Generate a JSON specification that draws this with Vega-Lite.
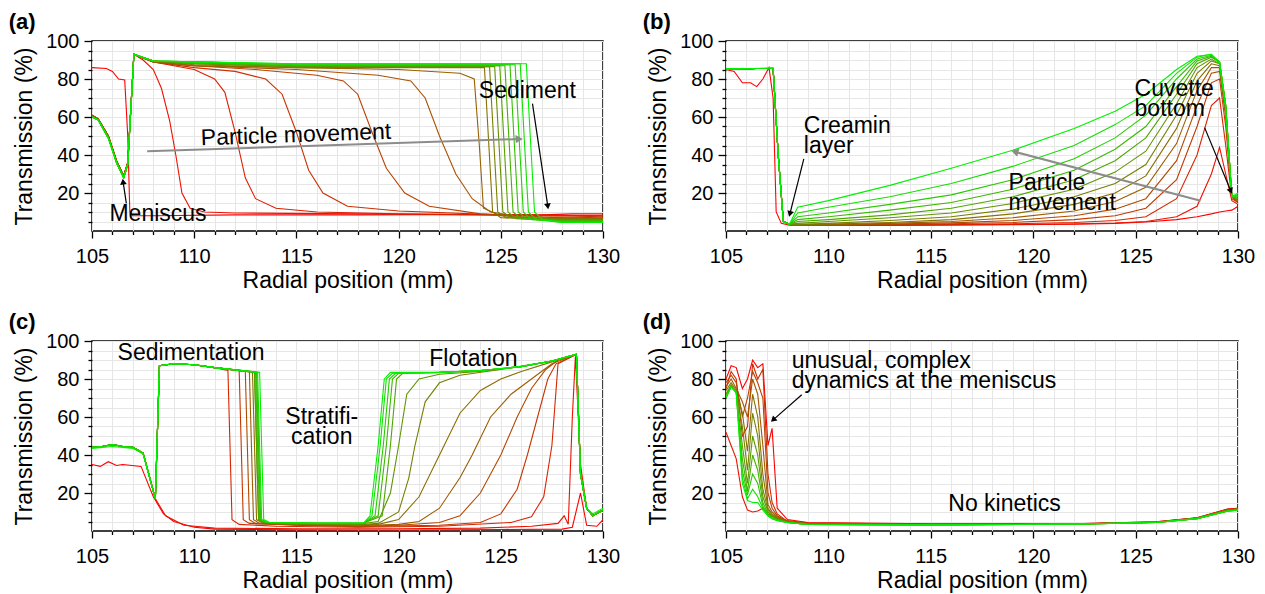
{
"$schema":"https://vega.github.io/schema/vega-lite/v6.json",
"padding":{"left":7,"top":10,"right":5,"bottom":0},
"columns":2,
"spacing":{"row":17,"column":20},
"resolve":{"scale":{"color":"independent"}},
"config":{
 "font":"Liberation Sans",
 "view":{"stroke":"#000","strokeWidth":1.5},
 "axis":{"domain":false,"labelFontSize":20,"titleFontSize":23,"labelColor":"#000","titleColor":"#000","titleFontWeight":"normal","tickColor":"#000","tickWidth":1.3,"gridColor":"#e6e6e6","gridWidth":1,"labelOverlap":false,"labelFlush":false,"labelBound":false,"labelFont":"Liberation Sans","titleFont":"Liberation Sans"},
 "title":{"fontSize":22,"fontWeight":"bold","anchor":"start","frame":"bounds","color":"#000","font":"Liberation Sans"},
 "text":{"font":"Liberation Sans","fontSize":23,"color":"#000"}
},
"datasets":{
"a":[
{"c":0,"x":105,"y":86},{"c":0,"x":105.7,"y":85.5},{"c":0,"x":106,"y":84},{"c":0,"x":106.3,"y":80},{"c":0,"x":106.6,"y":79.5},{"c":0,"x":106.75,"y":50},{"c":0,"x":106.85,"y":10},{"c":0,"x":107,"y":8},{"c":0,"x":108,"y":8},{"c":0,"x":112,"y":8.5},{"c":0,"x":118,"y":8.5},{"c":0,"x":124,"y":8.7},{"c":0,"x":127,"y":8.5},{"c":0,"x":128.5,"y":9},{"c":0,"x":130,"y":9},
{"c":1,"x":105,"y":61},{"c":1,"x":105.3,"y":59},{"c":1,"x":105.8,"y":50},{"c":1,"x":106.2,"y":37},{"c":1,"x":106.55,"y":29},{"c":1,"x":106.75,"y":36},{"c":1,"x":107.05,"y":93},
{"c":1,"x":107.5,"y":90},{"c":1,"x":108,"y":85},{"c":1,"x":108.4,"y":75},{"c":1,"x":108.8,"y":58},{"c":1,"x":109.1,"y":40},{"c":1,"x":109.4,"y":20},{"c":1,"x":109.8,"y":12},{"c":1,"x":110.5,"y":10},{"c":1,"x":112,"y":9.5},{"c":1,"x":118,"y":9},{"c":1,"x":124,"y":8.5},{"c":1,"x":130,"y":8},
{"c":2,"x":105,"y":61},{"c":2,"x":105.3,"y":59},{"c":2,"x":105.8,"y":50},{"c":2,"x":106.2,"y":37},{"c":2,"x":106.55,"y":29},{"c":2,"x":106.75,"y":36},{"c":2,"x":107.05,"y":93},
{"c":2,"x":107.5,"y":91},{"c":2,"x":108,"y":89},{"c":2,"x":109,"y":87},{"c":2,"x":110,"y":85},{"c":2,"x":111,"y":80},{"c":2,"x":111.5,"y":73},{"c":2,"x":112,"y":52},{"c":2,"x":112.5,"y":28},{"c":2,"x":113,"y":17},{"c":2,"x":114,"y":12},{"c":2,"x":116,"y":10},{"c":2,"x":120,"y":9},{"c":2,"x":125,"y":8.5},{"c":2,"x":130,"y":8},
{"c":3,"x":105,"y":61},{"c":3,"x":105.3,"y":59},{"c":3,"x":105.8,"y":50},{"c":3,"x":106.2,"y":37},{"c":3,"x":106.55,"y":29},{"c":3,"x":106.75,"y":36},{"c":3,"x":107.05,"y":93},
{"c":3,"x":107.5,"y":91},{"c":3,"x":108,"y":89},{"c":3,"x":110,"y":86},{"c":3,"x":112,"y":84},{"c":3,"x":113.5,"y":80},{"c":3,"x":114.3,"y":72},{"c":3,"x":115,"y":52},{"c":3,"x":115.6,"y":32},{"c":3,"x":116.3,"y":20},{"c":3,"x":117.5,"y":13},{"c":3,"x":120,"y":10.5},{"c":3,"x":125,"y":8.5},{"c":3,"x":130,"y":7.5},
{"c":4,"x":105,"y":61},{"c":4,"x":105.3,"y":59},{"c":4,"x":105.8,"y":50},{"c":4,"x":106.2,"y":37},{"c":4,"x":106.55,"y":29},{"c":4,"x":106.75,"y":36},{"c":4,"x":107.05,"y":93},
{"c":4,"x":107.5,"y":91},{"c":4,"x":108,"y":89},{"c":4,"x":110,"y":87},{"c":4,"x":113,"y":85},{"c":4,"x":116,"y":82},{"c":4,"x":117.3,"y":79},{"c":4,"x":118,"y":72},{"c":4,"x":118.7,"y":52},{"c":4,"x":119.4,"y":33},{"c":4,"x":120.3,"y":20},{"c":4,"x":121.5,"y":13},{"c":4,"x":124,"y":9},{"c":4,"x":127,"y":7.5},{"c":4,"x":130,"y":7},
{"c":5,"x":105,"y":61},{"c":5,"x":105.3,"y":59},{"c":5,"x":105.8,"y":50},{"c":5,"x":106.2,"y":37},{"c":5,"x":106.55,"y":29},{"c":5,"x":106.75,"y":36},{"c":5,"x":107.05,"y":93},
{"c":5,"x":107.5,"y":91},{"c":5,"x":108,"y":89},{"c":5,"x":110,"y":87},{"c":5,"x":115,"y":85},{"c":5,"x":119,"y":82},{"c":5,"x":120.6,"y":79},{"c":5,"x":121.3,"y":70},{"c":5,"x":122,"y":50},{"c":5,"x":122.8,"y":30},{"c":5,"x":123.6,"y":17},{"c":5,"x":124.5,"y":10},{"c":5,"x":126,"y":7.5},{"c":5,"x":130,"y":6.5},
{"c":6,"x":105,"y":61},{"c":6,"x":105.3,"y":59},{"c":6,"x":105.8,"y":50},{"c":6,"x":106.2,"y":37},{"c":6,"x":106.55,"y":29},{"c":6,"x":106.75,"y":36},{"c":6,"x":107.05,"y":93},
{"c":6,"x":107.5,"y":91},{"c":6,"x":108,"y":89},{"c":6,"x":110,"y":87},{"c":6,"x":115,"y":86},{"c":6,"x":120,"y":85},{"c":6,"x":123,"y":83},{"c":6,"x":123.7,"y":80},{"c":6,"x":123.95,"y":45},{"c":6,"x":124.15,"y":12},{"c":6,"x":125,"y":8},{"c":6,"x":127,"y":6.5},{"c":6,"x":130,"y":6},
{"c":7,"x":105,"y":60},{"c":7,"x":105.3,"y":58.5},{"c":7,"x":105.8,"y":49},{"c":7,"x":106.2,"y":36},{"c":7,"x":106.55,"y":28},{"c":7,"x":106.75,"y":35},{"c":7,"x":107.05,"y":93},
{"c":7,"x":108,"y":89.5},{"c":7,"x":110,"y":87.5},{"c":7,"x":115,"y":86},{"c":7,"x":120,"y":86},{"c":7,"x":124.2,"y":86},{"c":7,"x":124.4,"y":48},{"c":7,"x":124.6,"y":10},{"c":7,"x":125,"y":7},{"c":7,"x":128,"y":6.5},{"c":7,"x":130,"y":6.5},
{"c":8,"x":105,"y":60},{"c":8,"x":105.3,"y":58.5},{"c":8,"x":105.8,"y":49},{"c":8,"x":106.2,"y":36},{"c":8,"x":106.55,"y":28},{"c":8,"x":106.75,"y":35},{"c":8,"x":107.05,"y":93},
{"c":8,"x":108,"y":89.5},{"c":8,"x":110,"y":88},{"c":8,"x":115,"y":86.5},{"c":8,"x":120,"y":86.5},{"c":8,"x":124.45,"y":86.5},{"c":8,"x":124.65,"y":48},{"c":8,"x":124.85,"y":10},{"c":8,"x":125.25,"y":7},{"c":8,"x":128,"y":6},{"c":8,"x":130,"y":6},
{"c":9,"x":105,"y":60},{"c":9,"x":105.3,"y":58.5},{"c":9,"x":105.8,"y":49},{"c":9,"x":106.2,"y":36},{"c":9,"x":106.55,"y":28},{"c":9,"x":106.75,"y":35},{"c":9,"x":107.05,"y":93},
{"c":9,"x":108,"y":89.5},{"c":9,"x":110,"y":88},{"c":9,"x":115,"y":86.5},{"c":9,"x":120,"y":86.5},{"c":9,"x":124.7,"y":86.5},{"c":9,"x":124.9,"y":48},{"c":9,"x":125.1,"y":10},{"c":9,"x":125.5,"y":7},{"c":9,"x":128,"y":6},{"c":9,"x":130,"y":6},
{"c":10,"x":105,"y":60},{"c":10,"x":105.3,"y":58.5},{"c":10,"x":105.8,"y":49},{"c":10,"x":106.2,"y":36},{"c":10,"x":106.55,"y":28},{"c":10,"x":106.75,"y":35},{"c":10,"x":107.05,"y":93},
{"c":10,"x":108,"y":89.5},{"c":10,"x":110,"y":88.5},{"c":10,"x":115,"y":87},{"c":10,"x":120,"y":87},{"c":10,"x":124.95,"y":87},{"c":10,"x":125.15,"y":48},{"c":10,"x":125.35,"y":10},{"c":10,"x":125.75,"y":6.5},{"c":10,"x":128,"y":5.5},{"c":10,"x":130,"y":5.5},
{"c":11,"x":105,"y":60},{"c":11,"x":105.3,"y":58.5},{"c":11,"x":105.8,"y":49},{"c":11,"x":106.2,"y":36},{"c":11,"x":106.55,"y":28},{"c":11,"x":106.75,"y":35},{"c":11,"x":107.05,"y":93},
{"c":11,"x":108,"y":89.5},{"c":11,"x":110,"y":88.5},{"c":11,"x":115,"y":87},{"c":11,"x":120,"y":87},{"c":11,"x":125.2,"y":87},{"c":11,"x":125.4,"y":48},{"c":11,"x":125.6,"y":10},{"c":11,"x":126,"y":6.5},{"c":11,"x":128,"y":5.5},{"c":11,"x":130,"y":5.5},
{"c":12,"x":105,"y":60},{"c":12,"x":105.3,"y":58.5},{"c":12,"x":105.8,"y":49},{"c":12,"x":106.2,"y":36},{"c":12,"x":106.55,"y":28},{"c":12,"x":106.75,"y":35},{"c":12,"x":107.05,"y":93},
{"c":12,"x":108,"y":89.5},{"c":12,"x":110,"y":89},{"c":12,"x":115,"y":87.5},{"c":12,"x":120,"y":87.5},{"c":12,"x":125.45,"y":87.5},{"c":12,"x":125.65,"y":48},{"c":12,"x":125.85,"y":10},{"c":12,"x":126.25,"y":6.5},{"c":12,"x":128,"y":5},{"c":12,"x":130,"y":5},
{"c":13,"x":105,"y":60},{"c":13,"x":105.3,"y":58.5},{"c":13,"x":105.8,"y":49},{"c":13,"x":106.2,"y":36},{"c":13,"x":106.55,"y":28},{"c":13,"x":106.75,"y":35},{"c":13,"x":107.05,"y":93},
{"c":13,"x":108,"y":89.5},{"c":13,"x":110,"y":89},{"c":13,"x":115,"y":87.5},{"c":13,"x":120,"y":87.5},{"c":13,"x":125.7,"y":87.5},{"c":13,"x":125.9,"y":48},{"c":13,"x":126.1,"y":10},{"c":13,"x":126.5,"y":6},{"c":13,"x":128,"y":5},{"c":13,"x":130,"y":5},
{"c":14,"x":105,"y":60},{"c":14,"x":105.3,"y":58.5},{"c":14,"x":105.8,"y":49},{"c":14,"x":106.2,"y":36},{"c":14,"x":106.55,"y":28},{"c":14,"x":106.75,"y":35},{"c":14,"x":107.05,"y":93},
{"c":14,"x":108,"y":89.5},{"c":14,"x":110,"y":89},{"c":14,"x":115,"y":88},{"c":14,"x":120,"y":88},{"c":14,"x":125.95,"y":88},{"c":14,"x":126.15,"y":48},{"c":14,"x":126.35,"y":10},{"c":14,"x":126.75,"y":6},{"c":14,"x":128,"y":4.5},{"c":14,"x":130,"y":4.5},
{"c":15,"x":105,"y":60},{"c":15,"x":105.3,"y":58.5},{"c":15,"x":105.8,"y":49},{"c":15,"x":106.2,"y":36},{"c":15,"x":106.55,"y":28},{"c":15,"x":106.75,"y":35},{"c":15,"x":107.05,"y":93},
{"c":15,"x":108,"y":89.5},{"c":15,"x":110,"y":89},{"c":15,"x":115,"y":88},{"c":15,"x":120,"y":88},{"c":15,"x":126.25,"y":88},{"c":15,"x":126.45,"y":48},{"c":15,"x":126.65,"y":10},{"c":15,"x":127.05,"y":6},{"c":15,"x":128,"y":4.5},{"c":15,"x":130,"y":4.5}
],
"b":[
{"c":0,"x":105,"y":85},{"c":0,"x":105.4,"y":84},{"c":0,"x":105.8,"y":78},{"c":0,"x":106.2,"y":78},{"c":0,"x":106.5,"y":76},{"c":0,"x":106.8,"y":80},{"c":0,"x":107.1,"y":86},{"c":0,"x":107.3,"y":70},{"c":0,"x":107.45,"y":10},{"c":0,"x":107.7,"y":4},{"c":0,"x":108.1,"y":3},
{"c":0,"x":108.5,"y":3},{"c":0,"x":110,"y":3},{"c":0,"x":113,"y":3},{"c":0,"x":116,"y":3.2},{"c":0,"x":119,"y":3.3},{"c":0,"x":122,"y":3.6},{"c":0,"x":124,"y":4},{"c":0,"x":125.5,"y":4.7},{"c":0,"x":127,"y":6},{"c":0,"x":128,"y":7.5},{"c":0,"x":128.7,"y":9},{"c":0,"x":129.1,"y":10},{"c":0,"x":129.4,"y":10.5},{"c":0,"x":129.7,"y":11},{"c":0,"x":130,"y":13},
{"c":1,"x":105,"y":85},{"c":1,"x":106.5,"y":85.5},{"c":1,"x":107.3,"y":85.5},{"c":1,"x":107.55,"y":40},{"c":1,"x":107.8,"y":5},{"c":1,"x":108.1,"y":3.5},
{"c":1,"x":108.5,"y":3},{"c":1,"x":110,"y":3},{"c":1,"x":113,"y":3},{"c":1,"x":116,"y":3.2},{"c":1,"x":119,"y":3.4},{"c":1,"x":122,"y":3.7},{"c":1,"x":124,"y":4.2},{"c":1,"x":125.5,"y":5},{"c":1,"x":127,"y":7.5},{"c":1,"x":128,"y":13},{"c":1,"x":128.7,"y":30},{"c":1,"x":129.1,"y":44},{"c":1,"x":129.4,"y":30},{"c":1,"x":129.7,"y":16},{"c":1,"x":130,"y":14},
{"c":2,"x":105,"y":85},{"c":2,"x":106.5,"y":85.5},{"c":2,"x":107.3,"y":85.5},{"c":2,"x":107.55,"y":40},{"c":2,"x":107.8,"y":5},{"c":2,"x":108.1,"y":3.5},
{"c":2,"x":108.5,"y":3},{"c":2,"x":110,"y":3},{"c":2,"x":113,"y":3.1},{"c":2,"x":116,"y":3.4},{"c":2,"x":119,"y":3.8},{"c":2,"x":122,"y":4.5},{"c":2,"x":124,"y":5.5},{"c":2,"x":125.5,"y":7.5},{"c":2,"x":127,"y":17},{"c":2,"x":128,"y":40},{"c":2,"x":128.7,"y":66},{"c":2,"x":129.1,"y":70},{"c":2,"x":129.4,"y":45},{"c":2,"x":129.7,"y":17},{"c":2,"x":130,"y":15},
{"c":3,"x":105,"y":85},{"c":3,"x":106.5,"y":85.5},{"c":3,"x":107.3,"y":85.5},{"c":3,"x":107.55,"y":40},{"c":3,"x":107.8,"y":5},{"c":3,"x":108.1,"y":3.5},
{"c":3,"x":108.5,"y":3},{"c":3,"x":110,"y":3},{"c":3,"x":113,"y":3.3},{"c":3,"x":116,"y":3.8},{"c":3,"x":119,"y":4.5},{"c":3,"x":122,"y":6},{"c":3,"x":124,"y":8},{"c":3,"x":125.5,"y":12},{"c":3,"x":127,"y":27},{"c":3,"x":128,"y":55},{"c":3,"x":128.7,"y":78},{"c":3,"x":129.1,"y":80},{"c":3,"x":129.4,"y":55},{"c":3,"x":129.7,"y":18},{"c":3,"x":130,"y":15},
{"c":4,"x":105,"y":85},{"c":4,"x":106.5,"y":85.5},{"c":4,"x":107.3,"y":85.5},{"c":4,"x":107.55,"y":40},{"c":4,"x":107.8,"y":5},{"c":4,"x":108.1,"y":3.5},
{"c":4,"x":108.5,"y":3},{"c":4,"x":110,"y":3.1},{"c":4,"x":113,"y":3.6},{"c":4,"x":116,"y":4.3},{"c":4,"x":119,"y":5.5},{"c":4,"x":122,"y":8},{"c":4,"x":124,"y":11.5},{"c":4,"x":125.5,"y":17},{"c":4,"x":127,"y":37},{"c":4,"x":128,"y":66},{"c":4,"x":128.7,"y":83},{"c":4,"x":129.1,"y":84},{"c":4,"x":129.4,"y":60},{"c":4,"x":129.7,"y":18},{"c":4,"x":130,"y":16},
{"c":5,"x":105,"y":85},{"c":5,"x":106.5,"y":85.5},{"c":5,"x":107.3,"y":85.5},{"c":5,"x":107.55,"y":40},{"c":5,"x":107.8,"y":5},{"c":5,"x":108.1,"y":3.5},
{"c":5,"x":108.5,"y":3},{"c":5,"x":110,"y":3.3},{"c":5,"x":113,"y":4},{"c":5,"x":116,"y":5},{"c":5,"x":119,"y":7},{"c":5,"x":122,"y":10.5},{"c":5,"x":124,"y":15.5},{"c":5,"x":125.5,"y":23},{"c":5,"x":127,"y":46},{"c":5,"x":128,"y":74},{"c":5,"x":128.7,"y":86},{"c":5,"x":129.1,"y":86},{"c":5,"x":129.4,"y":62},{"c":5,"x":129.7,"y":18},{"c":5,"x":130,"y":16},
{"c":6,"x":105,"y":85},{"c":6,"x":106.5,"y":85.5},{"c":6,"x":107.3,"y":85.5},{"c":6,"x":107.55,"y":40},{"c":6,"x":107.8,"y":5},{"c":6,"x":108.1,"y":3.5},
{"c":6,"x":108.5,"y":3.2},{"c":6,"x":110,"y":3.6},{"c":6,"x":113,"y":4.5},{"c":6,"x":116,"y":6},{"c":6,"x":119,"y":9},{"c":6,"x":122,"y":14},{"c":6,"x":124,"y":20},{"c":6,"x":125.5,"y":29},{"c":6,"x":127,"y":54},{"c":6,"x":128,"y":79},{"c":6,"x":128.7,"y":88},{"c":6,"x":129.1,"y":87},{"c":6,"x":129.4,"y":64},{"c":6,"x":129.7,"y":18},{"c":6,"x":130,"y":16},
{"c":7,"x":105,"y":85},{"c":7,"x":106.5,"y":85.5},{"c":7,"x":107.3,"y":85.5},{"c":7,"x":107.55,"y":40},{"c":7,"x":107.8,"y":5},{"c":7,"x":108.1,"y":3.5},
{"c":7,"x":108.5,"y":3.5},{"c":7,"x":110,"y":4},{"c":7,"x":113,"y":5.5},{"c":7,"x":116,"y":7.5},{"c":7,"x":119,"y":11.5},{"c":7,"x":122,"y":18},{"c":7,"x":124,"y":25},{"c":7,"x":125.5,"y":35},{"c":7,"x":127,"y":61},{"c":7,"x":128,"y":83},{"c":7,"x":128.7,"y":89.5},{"c":7,"x":129.1,"y":88},{"c":7,"x":129.4,"y":65},{"c":7,"x":129.7,"y":18},{"c":7,"x":130,"y":16},
{"c":8,"x":105,"y":85},{"c":8,"x":106.5,"y":85.5},{"c":8,"x":107.3,"y":85.5},{"c":8,"x":107.55,"y":40},{"c":8,"x":107.8,"y":5},{"c":8,"x":108.1,"y":3.5},
{"c":8,"x":108.5,"y":4},{"c":8,"x":110,"y":5},{"c":8,"x":113,"y":7},{"c":8,"x":116,"y":9.5},{"c":8,"x":119,"y":14.5},{"c":8,"x":122,"y":22},{"c":8,"x":124,"y":31},{"c":8,"x":125.5,"y":42},{"c":8,"x":127,"y":67},{"c":8,"x":128,"y":86},{"c":8,"x":128.7,"y":90.5},{"c":8,"x":129.1,"y":88},{"c":8,"x":129.4,"y":66},{"c":8,"x":129.7,"y":18},{"c":8,"x":130,"y":17},
{"c":9,"x":105,"y":85},{"c":9,"x":106.5,"y":85.5},{"c":9,"x":107.3,"y":85.5},{"c":9,"x":107.55,"y":40},{"c":9,"x":107.8,"y":5},{"c":9,"x":108.1,"y":3.5},
{"c":9,"x":108.5,"y":5},{"c":9,"x":110,"y":6},{"c":9,"x":113,"y":8.5},{"c":9,"x":116,"y":12},{"c":9,"x":119,"y":18},{"c":9,"x":122,"y":27},{"c":9,"x":124,"y":37},{"c":9,"x":125.5,"y":49},{"c":9,"x":127,"y":72},{"c":9,"x":128,"y":88},{"c":9,"x":128.7,"y":91.5},{"c":9,"x":129.1,"y":89},{"c":9,"x":129.4,"y":66},{"c":9,"x":129.7,"y":18},{"c":9,"x":130,"y":17},
{"c":10,"x":105,"y":85},{"c":10,"x":106.5,"y":85.5},{"c":10,"x":107.3,"y":85.5},{"c":10,"x":107.55,"y":40},{"c":10,"x":107.8,"y":5},{"c":10,"x":108.1,"y":3.5},
{"c":10,"x":108.5,"y":6},{"c":10,"x":110,"y":7.5},{"c":10,"x":113,"y":11},{"c":10,"x":116,"y":15},{"c":10,"x":119,"y":22},{"c":10,"x":122,"y":32},{"c":10,"x":124,"y":43},{"c":10,"x":125.5,"y":55},{"c":10,"x":127,"y":76},{"c":10,"x":128,"y":89.5},{"c":10,"x":128.7,"y":92},{"c":10,"x":129.1,"y":89},{"c":10,"x":129.4,"y":66},{"c":10,"x":129.7,"y":18},{"c":10,"x":130,"y":18},
{"c":11,"x":105,"y":85},{"c":11,"x":106.5,"y":85.5},{"c":11,"x":107.3,"y":85.5},{"c":11,"x":107.55,"y":40},{"c":11,"x":107.8,"y":5},{"c":11,"x":108.1,"y":3.5},
{"c":11,"x":108.5,"y":7.5},{"c":11,"x":110,"y":9.5},{"c":11,"x":113,"y":14},{"c":11,"x":116,"y":19},{"c":11,"x":119,"y":27},{"c":11,"x":122,"y":38},{"c":11,"x":124,"y":49},{"c":11,"x":125.5,"y":61},{"c":11,"x":127,"y":80},{"c":11,"x":128,"y":90.5},{"c":11,"x":128.7,"y":92.5},{"c":11,"x":129.1,"y":89},{"c":11,"x":129.4,"y":66},{"c":11,"x":129.7,"y":18},{"c":11,"x":130,"y":18},
{"c":12,"x":105,"y":85},{"c":12,"x":106.5,"y":85.5},{"c":12,"x":107.3,"y":85.5},{"c":12,"x":107.55,"y":40},{"c":12,"x":107.8,"y":5},{"c":12,"x":108.1,"y":3.5},
{"c":12,"x":108.5,"y":9.5},{"c":12,"x":110,"y":12.5},{"c":12,"x":113,"y":18},{"c":12,"x":116,"y":25},{"c":12,"x":119,"y":34},{"c":12,"x":122,"y":45},{"c":12,"x":124,"y":56},{"c":12,"x":125.5,"y":66},{"c":12,"x":127,"y":83},{"c":12,"x":128,"y":91.5},{"c":12,"x":128.7,"y":93},{"c":12,"x":129.1,"y":89},{"c":12,"x":129.4,"y":66},{"c":12,"x":129.7,"y":18},{"c":12,"x":130,"y":19},
{"c":13,"x":105,"y":85.5},{"c":13,"x":106.5,"y":85.5},{"c":13,"x":107.3,"y":86},{"c":13,"x":107.55,"y":40},{"c":13,"x":107.8,"y":5},{"c":13,"x":108.1,"y":3.5},
{"c":13,"x":108.5,"y":12.5},{"c":13,"x":110,"y":16},{"c":13,"x":113,"y":24},{"c":13,"x":116,"y":33},{"c":13,"x":119,"y":42.5},{"c":13,"x":122,"y":54},{"c":13,"x":124,"y":63},{"c":13,"x":125.5,"y":72},{"c":13,"x":127,"y":85},{"c":13,"x":128,"y":92},{"c":13,"x":128.7,"y":93},{"c":13,"x":129.1,"y":88},{"c":13,"x":129.4,"y":64},{"c":13,"x":129.7,"y":18},{"c":13,"x":130,"y":20}
],
"c":[
{"c":0,"x":105,"y":35},{"c":0,"x":105.4,"y":34},{"c":0,"x":105.8,"y":36.5},{"c":0,"x":106.2,"y":34.5},{"c":0,"x":106.5,"y":35},{"c":0,"x":107.4,"y":34},{"c":0,"x":108,"y":18},{"c":0,"x":108.5,"y":9},{"c":0,"x":109,"y":5},{"c":0,"x":110,"y":2},{"c":0,"x":111,"y":1},{"c":0,"x":115,"y":0.6},{"c":0,"x":120,"y":0.5},{"c":0,"x":125,"y":0.8},{"c":0,"x":128,"y":1},{"c":0,"x":128.5,"y":2},{"c":0,"x":128.9,"y":20},{"c":0,"x":129.2,"y":3},{"c":0,"x":129.7,"y":2.5},{"c":0,"x":130,"y":6},
{"c":1,"x":105,"y":44},{"c":1,"x":105.5,"y":44.5},{"c":1,"x":106,"y":45.5},{"c":1,"x":106.5,"y":44.5},{"c":1,"x":107,"y":44},{"c":1,"x":107.5,"y":41},{"c":1,"x":108.1,"y":17},
{"c":1,"x":108.6,"y":8},{"c":1,"x":109.5,"y":3},{"c":1,"x":111,"y":1.5},{"c":1,"x":115,"y":1.2},{"c":1,"x":120,"y":1.2},{"c":1,"x":124,"y":1.5},{"c":1,"x":126.5,"y":2.5},{"c":1,"x":127.8,"y":4},{"c":1,"x":128.1,"y":8},{"c":1,"x":128.3,"y":3.5},{"c":1,"x":128.5,"y":60},{"c":1,"x":128.65,"y":92},{"c":1,"x":128.9,"y":35},{"c":1,"x":129.2,"y":12},{"c":1,"x":129.5,"y":8},{"c":1,"x":130,"y":11},
{"c":2,"x":105,"y":44},{"c":2,"x":105.5,"y":44.5},{"c":2,"x":106,"y":45.5},{"c":2,"x":106.5,"y":44.5},{"c":2,"x":107,"y":44},{"c":2,"x":107.5,"y":41},{"c":2,"x":108.1,"y":17},
{"c":2,"x":108.3,"y":87},{"c":2,"x":109,"y":88},{"c":2,"x":110,"y":87.5},{"c":2,"x":111,"y":86},{"c":2,"x":111.65,"y":84.5},{"c":2,"x":111.85,"y":6},{"c":2,"x":112.2,"y":3.5},{"c":2,"x":114,"y":2.5},{"c":2,"x":118,"y":2},{"c":2,"x":122,"y":2.5},{"c":2,"x":125.5,"y":4.5},{"c":2,"x":126.5,"y":7.5},{"c":2,"x":127.1,"y":18},{"c":2,"x":127.5,"y":45},{"c":2,"x":127.8,"y":88},{"c":2,"x":128.7,"y":93},{"c":2,"x":128.9,"y":30},{"c":2,"x":129.2,"y":12},{"c":2,"x":129.5,"y":8},{"c":2,"x":130,"y":11},
{"c":3,"x":105,"y":44},{"c":3,"x":105.5,"y":44.5},{"c":3,"x":106,"y":45.5},{"c":3,"x":106.5,"y":44.5},{"c":3,"x":107,"y":44},{"c":3,"x":107.5,"y":41},{"c":3,"x":108.1,"y":17},
{"c":3,"x":108.3,"y":87},{"c":3,"x":109,"y":88},{"c":3,"x":110,"y":87.5},{"c":3,"x":111,"y":86},{"c":3,"x":112.2,"y":84.5},{"c":3,"x":112.4,"y":6},{"c":3,"x":112.7,"y":4},{"c":3,"x":115,"y":3},{"c":3,"x":118,"y":2.3},{"c":3,"x":122,"y":3},{"c":3,"x":124,"y":4.5},{"c":3,"x":125,"y":9},{"c":3,"x":125.8,"y":22},{"c":3,"x":126.3,"y":40},{"c":3,"x":126.8,"y":60},{"c":3,"x":127.3,"y":80},{"c":3,"x":127.7,"y":88},{"c":3,"x":128.7,"y":93},{"c":3,"x":128.9,"y":30},{"c":3,"x":129.2,"y":12},{"c":3,"x":129.5,"y":8},{"c":3,"x":130,"y":11},
{"c":4,"x":105,"y":44},{"c":4,"x":105.5,"y":44.5},{"c":4,"x":106,"y":45.5},{"c":4,"x":106.5,"y":44.5},{"c":4,"x":107,"y":44},{"c":4,"x":107.5,"y":41},{"c":4,"x":108.1,"y":17},
{"c":4,"x":108.3,"y":87},{"c":4,"x":109,"y":88},{"c":4,"x":110,"y":87.5},{"c":4,"x":111,"y":86},{"c":4,"x":112.5,"y":84},{"c":4,"x":112.7,"y":6},{"c":4,"x":113,"y":4},{"c":4,"x":115,"y":3.2},{"c":4,"x":118,"y":2.5},{"c":4,"x":120,"y":3},{"c":4,"x":122,"y":4.5},{"c":4,"x":123,"y":8},{"c":4,"x":124,"y":20},{"c":4,"x":125,"y":40},{"c":4,"x":125.8,"y":60},{"c":4,"x":126.5,"y":75},{"c":4,"x":127.2,"y":85},{"c":4,"x":127.8,"y":90},{"c":4,"x":128.7,"y":93},{"c":4,"x":128.9,"y":30},{"c":4,"x":129.2,"y":12},{"c":4,"x":129.5,"y":8},{"c":4,"x":130,"y":11},
{"c":5,"x":105,"y":44},{"c":5,"x":105.5,"y":44.5},{"c":5,"x":106,"y":45.5},{"c":5,"x":106.5,"y":44.5},{"c":5,"x":107,"y":44},{"c":5,"x":107.5,"y":41},{"c":5,"x":108.1,"y":17},
{"c":5,"x":108.3,"y":87},{"c":5,"x":109,"y":88},{"c":5,"x":110,"y":87.5},{"c":5,"x":111,"y":86},{"c":5,"x":112.7,"y":84},{"c":5,"x":112.9,"y":6},{"c":5,"x":113.2,"y":4},{"c":5,"x":115,"y":3.3},{"c":5,"x":118,"y":2.8},{"c":5,"x":120,"y":3.5},{"c":5,"x":121,"y":5},{"c":5,"x":122,"y":12},{"c":5,"x":123,"y":28},{"c":5,"x":123.6,"y":40},{"c":5,"x":124.5,"y":60},{"c":5,"x":125.5,"y":72},{"c":5,"x":126.5,"y":80},{"c":5,"x":127.5,"y":88},{"c":5,"x":128.7,"y":93},{"c":5,"x":128.9,"y":30},{"c":5,"x":129.2,"y":12},{"c":5,"x":129.5,"y":8},{"c":5,"x":130,"y":11},
{"c":6,"x":105,"y":44},{"c":6,"x":105.5,"y":44.5},{"c":6,"x":106,"y":45.5},{"c":6,"x":106.5,"y":44.5},{"c":6,"x":107,"y":44},{"c":6,"x":107.5,"y":41},{"c":6,"x":108.1,"y":17},
{"c":6,"x":108.3,"y":87},{"c":6,"x":109,"y":88},{"c":6,"x":110,"y":87.5},{"c":6,"x":111,"y":86},{"c":6,"x":112.85,"y":84},{"c":6,"x":113.05,"y":6},{"c":6,"x":113.3,"y":4.5},{"c":6,"x":115,"y":3.5},{"c":6,"x":118,"y":3},{"c":6,"x":119,"y":3.5},{"c":6,"x":120,"y":6},{"c":6,"x":121,"y":18},{"c":6,"x":122,"y":40},{"c":6,"x":123,"y":62},{"c":6,"x":124,"y":74},{"c":6,"x":125,"y":80},{"c":6,"x":126,"y":84},{"c":6,"x":127.5,"y":89},{"c":6,"x":128.7,"y":93},{"c":6,"x":128.9,"y":30},{"c":6,"x":129.2,"y":12},{"c":6,"x":129.5,"y":8},{"c":6,"x":130,"y":11},
{"c":7,"x":105,"y":44},{"c":7,"x":105.5,"y":44.5},{"c":7,"x":106,"y":45.5},{"c":7,"x":106.5,"y":44.5},{"c":7,"x":107,"y":44},{"c":7,"x":107.5,"y":41},{"c":7,"x":108.1,"y":17},
{"c":7,"x":108.3,"y":87},{"c":7,"x":109,"y":88},{"c":7,"x":110,"y":87.5},{"c":7,"x":111,"y":86},{"c":7,"x":112.95,"y":83.5},{"c":7,"x":113.15,"y":6},{"c":7,"x":113.4,"y":4.5},{"c":7,"x":115,"y":3.6},{"c":7,"x":118,"y":3.2},{"c":7,"x":119,"y":4},{"c":7,"x":120,"y":10},{"c":7,"x":120.5,"y":28},{"c":7,"x":120.8,"y":45},{"c":7,"x":121.3,"y":68},{"c":7,"x":122,"y":78},{"c":7,"x":123,"y":82},{"c":7,"x":125,"y":85},{"c":7,"x":127.5,"y":89.5},{"c":7,"x":128.7,"y":93},{"c":7,"x":128.9,"y":30},{"c":7,"x":129.2,"y":12},{"c":7,"x":129.5,"y":8},{"c":7,"x":130,"y":11},
{"c":8,"x":105,"y":44},{"c":8,"x":105.5,"y":44.5},{"c":8,"x":106,"y":45.5},{"c":8,"x":106.5,"y":44.5},{"c":8,"x":107,"y":44},{"c":8,"x":107.5,"y":41},{"c":8,"x":108.1,"y":17},
{"c":8,"x":108.3,"y":87},{"c":8,"x":109,"y":88},{"c":8,"x":110,"y":87.5},{"c":8,"x":111,"y":86},{"c":8,"x":113.05,"y":83.5},{"c":8,"x":113.25,"y":6},{"c":8,"x":113.5,"y":4.5},{"c":8,"x":115,"y":3.8},{"c":8,"x":118,"y":3.5},{"c":8,"x":119,"y":5},{"c":8,"x":119.6,"y":20},{"c":8,"x":120,"y":45},{"c":8,"x":120.4,"y":72},{"c":8,"x":121,"y":80},{"c":8,"x":122,"y":82.5},{"c":8,"x":124,"y":84},{"c":8,"x":126,"y":86.5},{"c":8,"x":127.5,"y":89.5},{"c":8,"x":128.7,"y":93},{"c":8,"x":128.9,"y":30},{"c":8,"x":129.2,"y":12},{"c":8,"x":129.5,"y":8},{"c":8,"x":130,"y":11},
{"c":9,"x":105,"y":44},{"c":9,"x":105.5,"y":44.5},{"c":9,"x":106,"y":45.5},{"c":9,"x":106.5,"y":44.5},{"c":9,"x":107,"y":44},{"c":9,"x":107.5,"y":41},{"c":9,"x":108.1,"y":17},
{"c":9,"x":108.3,"y":87},{"c":9,"x":109,"y":88},{"c":9,"x":110,"y":87.5},{"c":9,"x":111,"y":86},{"c":9,"x":112.95,"y":83.5},{"c":9,"x":113.15,"y":6},{"c":9,"x":113.45,"y":4.5},{"c":9,"x":116,"y":4},{"c":9,"x":118.3,"y":4.2},{"c":9,"x":119.2,"y":8},{"c":9,"x":119.6,"y":45},{"c":9,"x":119.9,"y":80},{"c":9,"x":120.2,"y":83},{"c":9,"x":122,"y":83.5},{"c":9,"x":124,"y":84.5},{"c":9,"x":126,"y":86.5},{"c":9,"x":127.5,"y":89.5},{"c":9,"x":128.7,"y":93},{"c":9,"x":128.9,"y":30},{"c":9,"x":129.2,"y":12},{"c":9,"x":129.5,"y":8},{"c":9,"x":130,"y":11},
{"c":10,"x":105,"y":44},{"c":10,"x":105.5,"y":44.5},{"c":10,"x":106,"y":45.5},{"c":10,"x":106.5,"y":44.5},{"c":10,"x":107,"y":44},{"c":10,"x":107.5,"y":41},{"c":10,"x":108.1,"y":17},
{"c":10,"x":108.3,"y":87},{"c":10,"x":109,"y":88},{"c":10,"x":110,"y":87.5},{"c":10,"x":111,"y":86},{"c":10,"x":113,"y":83.5},{"c":10,"x":113.2,"y":6},{"c":10,"x":113.5,"y":4.5},{"c":10,"x":116,"y":4},{"c":10,"x":118.3,"y":4.2},{"c":10,"x":119,"y":8},{"c":10,"x":119.4,"y":45},{"c":10,"x":119.7,"y":80},{"c":10,"x":120,"y":83},{"c":10,"x":122,"y":83.5},{"c":10,"x":124,"y":84.5},{"c":10,"x":126,"y":86.5},{"c":10,"x":127.5,"y":89.5},{"c":10,"x":128.7,"y":93},{"c":10,"x":128.9,"y":30},{"c":10,"x":129.2,"y":12},{"c":10,"x":129.5,"y":8},{"c":10,"x":130,"y":11},
{"c":11,"x":105,"y":44},{"c":11,"x":105.5,"y":44.5},{"c":11,"x":106,"y":45.5},{"c":11,"x":106.5,"y":44.5},{"c":11,"x":107,"y":44},{"c":11,"x":107.5,"y":41},{"c":11,"x":108.1,"y":17},
{"c":11,"x":108.3,"y":87},{"c":11,"x":109,"y":88},{"c":11,"x":110,"y":87.5},{"c":11,"x":111,"y":86},{"c":11,"x":113.05,"y":83.5},{"c":11,"x":113.25,"y":6},{"c":11,"x":113.55,"y":4.5},{"c":11,"x":116,"y":4},{"c":11,"x":118.3,"y":4.2},{"c":11,"x":118.85,"y":8},{"c":11,"x":119.25,"y":45},{"c":11,"x":119.55,"y":80},{"c":11,"x":119.85,"y":83},{"c":11,"x":122,"y":83.5},{"c":11,"x":124,"y":84.5},{"c":11,"x":126,"y":86.5},{"c":11,"x":127.5,"y":89.5},{"c":11,"x":128.7,"y":93},{"c":11,"x":128.9,"y":30},{"c":11,"x":129.2,"y":12},{"c":11,"x":129.5,"y":8},{"c":11,"x":130,"y":11},
{"c":12,"x":105,"y":44},{"c":12,"x":105.5,"y":44.5},{"c":12,"x":106,"y":45.5},{"c":12,"x":106.5,"y":44.5},{"c":12,"x":107,"y":44},{"c":12,"x":107.5,"y":41},{"c":12,"x":108.1,"y":17},
{"c":12,"x":108.3,"y":87},{"c":12,"x":109,"y":88},{"c":12,"x":110,"y":87.5},{"c":12,"x":111,"y":86},{"c":12,"x":113.1,"y":83.5},{"c":12,"x":113.3,"y":6},{"c":12,"x":113.6,"y":4.5},{"c":12,"x":116,"y":4},{"c":12,"x":118.3,"y":4.2},{"c":12,"x":118.7,"y":8},{"c":12,"x":119.1,"y":45},{"c":12,"x":119.4,"y":80},{"c":12,"x":119.7,"y":83},{"c":12,"x":122,"y":83.5},{"c":12,"x":124,"y":84.5},{"c":12,"x":126,"y":86.5},{"c":12,"x":127.5,"y":89.5},{"c":12,"x":128.7,"y":93},{"c":12,"x":128.9,"y":30},{"c":12,"x":129.2,"y":12},{"c":12,"x":129.5,"y":8},{"c":12,"x":130,"y":11},
{"c":13,"x":105,"y":43.5},{"c":13,"x":105.5,"y":44},{"c":13,"x":106,"y":44.5},{"c":13,"x":106.5,"y":44},{"c":13,"x":107,"y":43.5},{"c":13,"x":107.5,"y":40.5},{"c":13,"x":108.1,"y":17},
{"c":13,"x":108.3,"y":87},{"c":13,"x":109,"y":88},{"c":13,"x":110,"y":87.5},{"c":13,"x":111,"y":86},{"c":13,"x":113.2,"y":83.5},{"c":13,"x":113.4,"y":6},{"c":13,"x":113.7,"y":4.5},{"c":13,"x":116,"y":4.2},{"c":13,"x":118.3,"y":4.3},{"c":13,"x":118.6,"y":8},{"c":13,"x":119,"y":45},{"c":13,"x":119.3,"y":80},{"c":13,"x":119.6,"y":83.5},{"c":13,"x":122,"y":83.5},{"c":13,"x":124,"y":84.5},{"c":13,"x":126,"y":86.5},{"c":13,"x":127.5,"y":89.5},{"c":13,"x":128.7,"y":93},{"c":13,"x":128.9,"y":30},{"c":13,"x":129.2,"y":12},{"c":13,"x":129.5,"y":9},{"c":13,"x":130,"y":12}
],
"d":[
{"c":0,"x":105,"y":80},{"c":0,"x":105.25,"y":87},{"c":0,"x":105.5,"y":86},{"c":0,"x":105.8,"y":75},{"c":0,"x":106.05,"y":80},{"c":0,"x":106.3,"y":90},{"c":0,"x":106.55,"y":86},{"c":0,"x":106.8,"y":88},{"c":0,"x":107.05,"y":45},{"c":0,"x":107.25,"y":54},{"c":0,"x":107.5,"y":12},{"c":0,"x":108,"y":6},{"c":0,"x":109,"y":4.5},{"c":0,"x":115,"y":3.8},{"c":0,"x":122,"y":3.8},{"c":0,"x":126,"y":4.8},{"c":0,"x":128,"y":7},{"c":0,"x":129.5,"y":11.5},{"c":0,"x":130,"y":12},
{"c":1,"x":105,"y":52},{"c":1,"x":105.25,"y":45},{"c":1,"x":105.5,"y":38},{"c":1,"x":105.8,"y":18},{"c":1,"x":106.05,"y":11},{"c":1,"x":106.3,"y":10},{"c":1,"x":106.55,"y":10.5},{"c":1,"x":106.8,"y":12},{"c":1,"x":107.05,"y":9},{"c":1,"x":107.25,"y":8},{"c":1,"x":107.5,"y":7},{"c":1,"x":108,"y":5.5},{"c":1,"x":109,"y":4.2},{"c":1,"x":115,"y":3.6},{"c":1,"x":122,"y":3.8},{"c":1,"x":126,"y":4.8},{"c":1,"x":128,"y":7},{"c":1,"x":129.5,"y":11.5},{"c":1,"x":130,"y":12},
{"c":2,"x":105,"y":75},{"c":2,"x":105.25,"y":84},{"c":2,"x":105.5,"y":80},{"c":2,"x":105.8,"y":50},{"c":2,"x":106.05,"y":55},{"c":2,"x":106.3,"y":88},{"c":2,"x":106.55,"y":80},{"c":2,"x":106.8,"y":85},{"c":2,"x":107.05,"y":30},{"c":2,"x":107.25,"y":15},{"c":2,"x":107.5,"y":9},{"c":2,"x":108,"y":5},{"c":2,"x":109,"y":3.8},{"c":2,"x":115,"y":3.4},{"c":2,"x":122,"y":3.7},{"c":2,"x":126,"y":4.6},{"c":2,"x":128,"y":6.8},{"c":2,"x":129.5,"y":11},{"c":2,"x":130,"y":11.5},
{"c":3,"x":105,"y":78},{"c":3,"x":105.25,"y":82},{"c":3,"x":105.5,"y":78},{"c":3,"x":105.8,"y":60},{"c":3,"x":106.05,"y":70},{"c":3,"x":106.3,"y":84},{"c":3,"x":106.55,"y":78},{"c":3,"x":106.8,"y":70},{"c":3,"x":107.05,"y":20},{"c":3,"x":107.25,"y":12},{"c":3,"x":107.5,"y":8},{"c":3,"x":108,"y":5},{"c":3,"x":109,"y":3.8},{"c":3,"x":115,"y":3.4},{"c":3,"x":122,"y":3.7},{"c":3,"x":126,"y":4.6},{"c":3,"x":128,"y":6.8},{"c":3,"x":129.5,"y":11},{"c":3,"x":130,"y":11.5},
{"c":4,"x":105,"y":76},{"c":4,"x":105.25,"y":80},{"c":4,"x":105.5,"y":75},{"c":4,"x":105.8,"y":68},{"c":4,"x":106.05,"y":60},{"c":4,"x":106.3,"y":80},{"c":4,"x":106.55,"y":72},{"c":4,"x":106.8,"y":45},{"c":4,"x":107.05,"y":14},{"c":4,"x":107.25,"y":10},{"c":4,"x":107.5,"y":7.5},{"c":4,"x":108,"y":5},{"c":4,"x":109,"y":3.8},{"c":4,"x":115,"y":3.4},{"c":4,"x":122,"y":3.7},{"c":4,"x":126,"y":4.6},{"c":4,"x":128,"y":6.8},{"c":4,"x":129.5,"y":11},{"c":4,"x":130,"y":11.5},
{"c":5,"x":105,"y":74},{"c":5,"x":105.25,"y":78},{"c":5,"x":105.5,"y":74},{"c":5,"x":105.8,"y":62},{"c":5,"x":106.05,"y":42},{"c":5,"x":106.3,"y":72},{"c":5,"x":106.55,"y":60},{"c":5,"x":106.8,"y":30},{"c":5,"x":107.05,"y":12},{"c":5,"x":107.25,"y":9},{"c":5,"x":107.5,"y":7},{"c":5,"x":108,"y":5},{"c":5,"x":109,"y":3.8},{"c":5,"x":115,"y":3.4},{"c":5,"x":122,"y":3.7},{"c":5,"x":126,"y":4.6},{"c":5,"x":128,"y":6.8},{"c":5,"x":129.5,"y":11},{"c":5,"x":130,"y":11.5},
{"c":6,"x":105,"y":72},{"c":6,"x":105.25,"y":77},{"c":6,"x":105.5,"y":73},{"c":6,"x":105.8,"y":55},{"c":6,"x":106.05,"y":32},{"c":6,"x":106.3,"y":62},{"c":6,"x":106.55,"y":50},{"c":6,"x":106.8,"y":22},{"c":6,"x":107.05,"y":11},{"c":6,"x":107.25,"y":8.5},{"c":6,"x":107.5,"y":6.5},{"c":6,"x":108,"y":5},{"c":6,"x":109,"y":3.8},{"c":6,"x":115,"y":3.4},{"c":6,"x":122,"y":3.7},{"c":6,"x":126,"y":4.6},{"c":6,"x":128,"y":6.8},{"c":6,"x":129.5,"y":11},{"c":6,"x":130,"y":11.5},
{"c":7,"x":105,"y":72},{"c":7,"x":105.25,"y":76},{"c":7,"x":105.5,"y":73},{"c":7,"x":105.8,"y":45},{"c":7,"x":106.05,"y":25},{"c":7,"x":106.3,"y":50},{"c":7,"x":106.55,"y":40},{"c":7,"x":106.8,"y":18},{"c":7,"x":107.05,"y":10},{"c":7,"x":107.25,"y":8},{"c":7,"x":107.5,"y":6},{"c":7,"x":108,"y":4.5},{"c":7,"x":109,"y":3.4},{"c":7,"x":115,"y":3.2},{"c":7,"x":122,"y":3.6},{"c":7,"x":126,"y":4.5},{"c":7,"x":128,"y":6.5},{"c":7,"x":129.5,"y":10.5},{"c":7,"x":130,"y":11},
{"c":8,"x":105,"y":71},{"c":8,"x":105.25,"y":76},{"c":8,"x":105.5,"y":73},{"c":8,"x":105.8,"y":38},{"c":8,"x":106.05,"y":21},{"c":8,"x":106.3,"y":40},{"c":8,"x":106.55,"y":32},{"c":8,"x":106.8,"y":15},{"c":8,"x":107.05,"y":9},{"c":8,"x":107.25,"y":7.5},{"c":8,"x":107.5,"y":6},{"c":8,"x":108,"y":4.5},{"c":8,"x":109,"y":3.4},{"c":8,"x":115,"y":3.2},{"c":8,"x":122,"y":3.6},{"c":8,"x":126,"y":4.5},{"c":8,"x":128,"y":6.5},{"c":8,"x":129.5,"y":10.5},{"c":8,"x":130,"y":11},
{"c":9,"x":105,"y":70},{"c":9,"x":105.25,"y":76},{"c":9,"x":105.5,"y":73},{"c":9,"x":105.8,"y":32},{"c":9,"x":106.05,"y":19},{"c":9,"x":106.3,"y":30},{"c":9,"x":106.55,"y":25},{"c":9,"x":106.8,"y":13},{"c":9,"x":107.05,"y":8.5},{"c":9,"x":107.25,"y":7},{"c":9,"x":107.5,"y":5.5},{"c":9,"x":108,"y":4.5},{"c":9,"x":109,"y":3.4},{"c":9,"x":115,"y":3.2},{"c":9,"x":122,"y":3.6},{"c":9,"x":126,"y":4.5},{"c":9,"x":128,"y":6.5},{"c":9,"x":129.5,"y":10.5},{"c":9,"x":130,"y":11},
{"c":10,"x":105,"y":70},{"c":10,"x":105.25,"y":76},{"c":10,"x":105.5,"y":73},{"c":10,"x":105.8,"y":28},{"c":10,"x":106.05,"y":17},{"c":10,"x":106.3,"y":22},{"c":10,"x":106.55,"y":18},{"c":10,"x":106.8,"y":12},{"c":10,"x":107.05,"y":8},{"c":10,"x":107.25,"y":6.5},{"c":10,"x":107.5,"y":5.5},{"c":10,"x":108,"y":4.5},{"c":10,"x":109,"y":3.4},{"c":10,"x":115,"y":3.2},{"c":10,"x":122,"y":3.6},{"c":10,"x":126,"y":4.5},{"c":10,"x":128,"y":6.5},{"c":10,"x":129.5,"y":10.5},{"c":10,"x":130,"y":11},
{"c":11,"x":105,"y":70},{"c":11,"x":105.25,"y":76},{"c":11,"x":105.5,"y":73},{"c":11,"x":105.8,"y":25},{"c":11,"x":106.05,"y":16},{"c":11,"x":106.3,"y":15},{"c":11,"x":106.55,"y":15},{"c":11,"x":106.8,"y":11},{"c":11,"x":107.05,"y":8},{"c":11,"x":107.25,"y":6.5},{"c":11,"x":107.5,"y":5.5},{"c":11,"x":108,"y":4.5},{"c":11,"x":109,"y":3.4},{"c":11,"x":115,"y":3.2},{"c":11,"x":122,"y":3.6},{"c":11,"x":126,"y":4.5},{"c":11,"x":128,"y":6.5},{"c":11,"x":129.5,"y":10.5},{"c":11,"x":130,"y":11}
]
},
"concat":[
{
"width":511,"height":190,
"title":{"text":"(a)","dx":-5,"offset":-3},
"encoding":{
 "x":{"field":"x","type":"quantitative","scale":{"domain":[105,130],"nice":false,"zero":false},"axis":{"title":"Radial position (mm)","values":[105,106,107,108,109,110,111,112,113,114,115,116,117,118,119,120,121,122,123,124,125,126,127,128,129,130],"labelExpr":"datum.value % 5 === 0 ? datum.label : ''","tickSize":{"condition":{"test":"datum.value % 5 === 0","value":7},"value":3.5},"labelPadding":8,"titlePadding":3}},
 "y":{"field":"y","type":"quantitative","scale":{"domain":[0,100],"nice":false},"axis":{"title":"Transmission (%)","values":[5,10,15,20,25,30,35,40,45,50,55,60,65,70,75,80,85,90,95,100],"labelExpr":"datum.value % 20 === 0 ? datum.label : ''","tickSize":{"condition":{"test":"datum.value % 20 === 0","value":8},"value":4},"labelPadding":5,"titlePadding":9}}
},
"layer":[
 {"data":{"name":"a"},"mark":{"type":"line","strokeWidth":1.1,"clip":true},"encoding":{"color":{"field":"c","type":"quantitative","scale":{"domain":[0,15],"range":["#ff0000","#00f000"],"interpolate":"rgb"},"legend":null},"detail":{"field":"c","type":"nominal"}}},
 {"data":{"values":[{"x":107.7,"y":42,"x2":125.9,"y2":48.4}]},"mark":{"type":"rule","color":"#8c8c8c","strokeWidth":2},"encoding":{"x2":{"field":"x2"},"y2":{"field":"y2"}}},
 {"data":{"values":[{"x":125.9,"y":48.4}]},"mark":{"type":"point","shape":"triangle-right","angle":358,"filled":true,"color":"#8c8c8c","size":70,"opacity":1},"encoding":{}},
 {"data":{"values":[{"x":126.55,"y":67,"x2":127.3,"y2":13}]},"mark":{"type":"rule","color":"#000","strokeWidth":1.2},"encoding":{"x2":{"field":"x2"},"y2":{"field":"y2"}}},
 {"data":{"values":[{"x":127.3,"y":13}]},"mark":{"type":"point","shape":"triangle-down","angle":352,"filled":true,"color":"#000","size":45,"opacity":1},"encoding":{}},
 {"data":{"values":[{"x":106.68,"y":14.5,"x2":106.52,"y2":26}]},"mark":{"type":"rule","color":"#000","strokeWidth":1.2},"encoding":{"x2":{"field":"x2"},"y2":{"field":"y2"}}},
 {"data":{"values":[{"x":106.52,"y":26}]},"mark":{"type":"point","shape":"triangle-up","angle":353,"filled":true,"color":"#000","size":45,"opacity":1},"encoding":{}},
 {"data":{"values":[{"x":126.3,"y":73.7,"t":"Sediment"},{"x":108.23,"y":8.9,"t":"Meniscus"}]},"mark":{"type":"text","align":"center","baseline":"middle"},"encoding":{"text":{"field":"t"}}},
 {"data":{"values":[{"x":114.98,"y":50.5,"t":"Particle movement"}]},"mark":{"type":"text","align":"center","baseline":"middle","angle":358},"encoding":{"text":{"field":"t"}}}
]
},
{
"width":512,"height":190,
"title":{"text":"(b)","dx":-5,"offset":-3},
"encoding":{
 "x":{"field":"x","type":"quantitative","scale":{"domain":[105,130],"nice":false,"zero":false},"axis":{"title":"Radial position (mm)","values":[105,106,107,108,109,110,111,112,113,114,115,116,117,118,119,120,121,122,123,124,125,126,127,128,129,130],"labelExpr":"datum.value % 5 === 0 ? datum.label : ''","tickSize":{"condition":{"test":"datum.value % 5 === 0","value":7},"value":3.5},"labelPadding":8,"titlePadding":3}},
 "y":{"field":"y","type":"quantitative","scale":{"domain":[0,100],"nice":false},"axis":{"title":"Transmission (%)","values":[5,10,15,20,25,30,35,40,45,50,55,60,65,70,75,80,85,90,95,100],"labelExpr":"datum.value % 20 === 0 ? datum.label : ''","tickSize":{"condition":{"test":"datum.value % 20 === 0","value":8},"value":4},"labelPadding":5,"titlePadding":9}}
},
"layer":[
 {"data":{"name":"b"},"mark":{"type":"line","strokeWidth":1.1,"clip":true},"encoding":{"color":{"field":"c","type":"quantitative","scale":{"domain":[0,13],"range":["#ff0000","#00f000"],"interpolate":"rgb"},"legend":null},"detail":{"field":"c","type":"nominal"}}},
 {"data":{"values":[{"x":128.17,"y":15.9,"x2":119.1,"y2":41.7}]},"mark":{"type":"rule","color":"#8c8c8c","strokeWidth":2},"encoding":{"x2":{"field":"x2"},"y2":{"field":"y2"}}},
 {"data":{"values":[{"x":119.1,"y":41.7}]},"mark":{"type":"point","shape":"triangle-left","angle":15,"filled":true,"color":"#8c8c8c","size":70,"opacity":1},"encoding":{}},
 {"data":{"values":[{"x":108.8,"y":38,"x2":108.12,"y2":9}]},"mark":{"type":"rule","color":"#000","strokeWidth":1.2},"encoding":{"x2":{"field":"x2"},"y2":{"field":"y2"}}},
 {"data":{"values":[{"x":108.12,"y":9}]},"mark":{"type":"point","shape":"triangle-down","angle":16,"filled":true,"color":"#000","size":45,"opacity":1},"encoding":{}},
 {"data":{"values":[{"x":128.37,"y":54.4,"x2":129.65,"y2":21}]},"mark":{"type":"rule","color":"#000","strokeWidth":1.2},"encoding":{"x2":{"field":"x2"},"y2":{"field":"y2"}}},
 {"data":{"values":[{"x":129.65,"y":21}]},"mark":{"type":"point","shape":"triangle-down","angle":337,"filled":true,"color":"#000","size":45,"opacity":1},"encoding":{}},
 {"data":{"values":[{"x":108.8,"y":60.8,"t":"Creamin\nlayer"},{"x":124.95,"y":80.5,"t":"Cuvette\nbottom"},{"x":118.8,"y":31.1,"t":"Particle\nmovement"}]},"mark":{"type":"text","align":"left","baseline":"top","lineBreak":"\n","lineHeight":20},"encoding":{"text":{"field":"t"}}}
]
},
{
"width":511,"height":190,
"title":{"text":"(c)","dx":-5,"offset":-3},
"encoding":{
 "x":{"field":"x","type":"quantitative","scale":{"domain":[105,130],"nice":false,"zero":false},"axis":{"title":"Radial position (mm)","values":[105,106,107,108,109,110,111,112,113,114,115,116,117,118,119,120,121,122,123,124,125,126,127,128,129,130],"labelExpr":"datum.value % 5 === 0 ? datum.label : ''","tickSize":{"condition":{"test":"datum.value % 5 === 0","value":7},"value":3.5},"labelPadding":8,"titlePadding":3}},
 "y":{"field":"y","type":"quantitative","scale":{"domain":[0,100],"nice":false},"axis":{"title":"Transmission (%)","values":[5,10,15,20,25,30,35,40,45,50,55,60,65,70,75,80,85,90,95,100],"labelExpr":"datum.value % 20 === 0 ? datum.label : ''","tickSize":{"condition":{"test":"datum.value % 20 === 0","value":8},"value":4},"labelPadding":5,"titlePadding":9}}
},
"layer":[
 {"data":{"name":"c"},"mark":{"type":"line","strokeWidth":1.1,"clip":true},"encoding":{"color":{"field":"c","type":"quantitative","scale":{"domain":[0,13],"range":["#ff0000","#00f000"],"interpolate":"rgb"},"legend":null},"detail":{"field":"c","type":"nominal"}}},
 {"data":{"values":[{"x":109.85,"y":93.5,"t":"Sedimentation"},{"x":123.66,"y":90.7,"t":"Flotation"}]},"mark":{"type":"text","align":"center","baseline":"middle"},"encoding":{"text":{"field":"t"}}},
 {"data":{"values":[{"x":116.24,"y":65.8,"t":"Stratifi-\ncation"}]},"mark":{"type":"text","align":"center","baseline":"top","lineBreak":"\n","lineHeight":20},"encoding":{"text":{"field":"t"}}}
]
},
{
"width":512,"height":190,
"title":{"text":"(d)","dx":-5,"offset":-3},
"encoding":{
 "x":{"field":"x","type":"quantitative","scale":{"domain":[105,130],"nice":false,"zero":false},"axis":{"title":"Radial position (mm)","values":[105,106,107,108,109,110,111,112,113,114,115,116,117,118,119,120,121,122,123,124,125,126,127,128,129,130],"labelExpr":"datum.value % 5 === 0 ? datum.label : ''","tickSize":{"condition":{"test":"datum.value % 5 === 0","value":7},"value":3.5},"labelPadding":8,"titlePadding":3}},
 "y":{"field":"y","type":"quantitative","scale":{"domain":[0,100],"nice":false},"axis":{"title":"Transmission (%)","values":[5,10,15,20,25,30,35,40,45,50,55,60,65,70,75,80,85,90,95,100],"labelExpr":"datum.value % 20 === 0 ? datum.label : ''","tickSize":{"condition":{"test":"datum.value % 20 === 0","value":8},"value":4},"labelPadding":5,"titlePadding":9}}
},
"layer":[
 {"data":{"name":"d"},"mark":{"type":"line","strokeWidth":1.1,"clip":true},"encoding":{"color":{"field":"c","type":"quantitative","scale":{"domain":[0,11],"range":["#ff0000","#00f000"],"interpolate":"rgb"},"legend":null},"detail":{"field":"c","type":"nominal"}}},
 {"data":{"values":[{"x":108.7,"y":71.7,"x2":107.3,"y2":58.5}]},"mark":{"type":"rule","color":"#000","strokeWidth":1.2},"encoding":{"x2":{"field":"x2"},"y2":{"field":"y2"}}},
 {"data":{"values":[{"x":107.3,"y":58.5}]},"mark":{"type":"point","shape":"triangle-down","angle":48,"filled":true,"color":"#000","size":45,"opacity":1},"encoding":{}},
 {"data":{"values":[{"x":108.21,"y":95.3,"t":"unusual, complex\ndynamics at the meniscus"}]},"mark":{"type":"text","align":"left","baseline":"top","lineBreak":"\n","lineHeight":20},"encoding":{"text":{"field":"t"}}},
 {"data":{"values":[{"x":118.6,"y":14.1,"t":"No kinetics"}]},"mark":{"type":"text","align":"center","baseline":"middle"},"encoding":{"text":{"field":"t"}}}
]
}
]
}
